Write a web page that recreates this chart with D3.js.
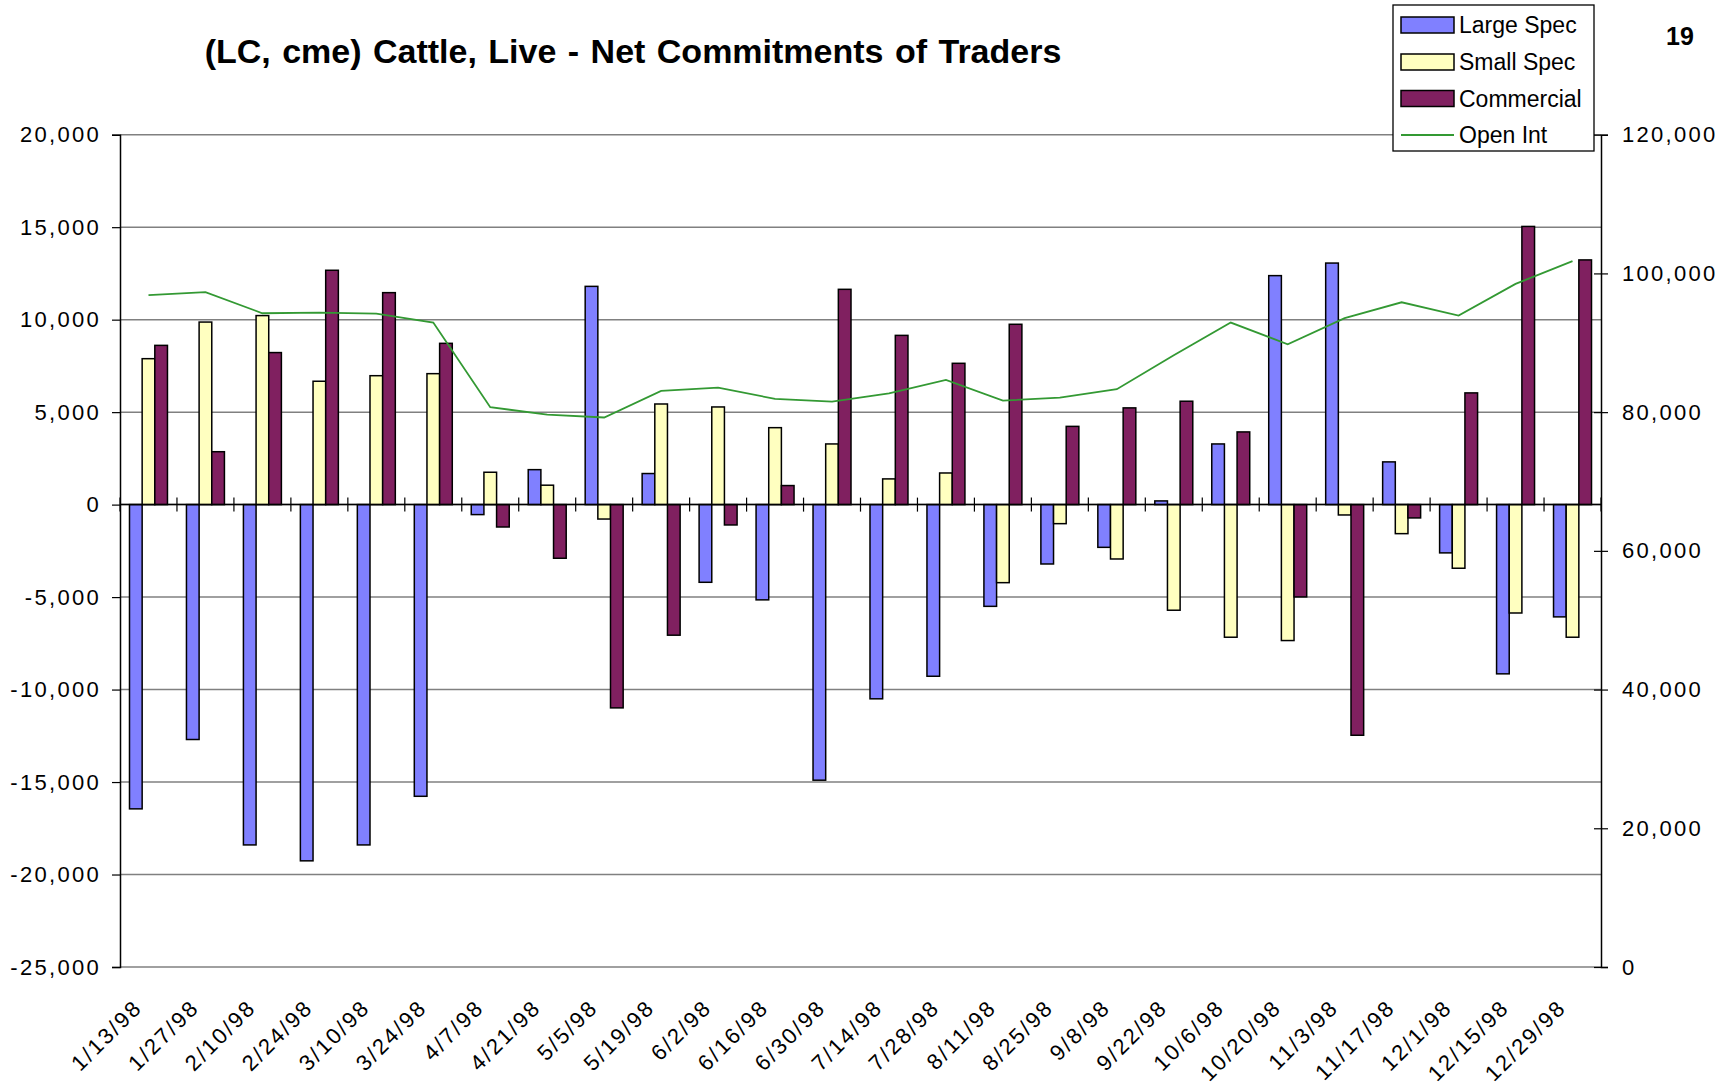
<!DOCTYPE html>
<html>
<head>
<meta charset="utf-8">
<script src="https://cdn.jsdelivr.net/npm/d3@7"></script>
<style>
  body { margin: 0; background: #fff; }
  svg { display: block; font-family: "Liberation Sans", Arial, sans-serif; }
</style>
</head>
<body>
<div id="chart"></div>
<script>
const dates = ['1/13/98', '1/27/98', '2/10/98', '2/24/98', '3/10/98', '3/24/98', '4/7/98', '4/21/98', '5/5/98',
    '5/19/98', '6/2/98', '6/16/98', '6/30/98', '7/14/98', '7/28/98', '8/11/98', '8/25/98', '9/8/98', '9/22/98',
    '10/6/98', '10/20/98', '11/3/98', '11/17/98', '12/1/98', '12/15/98', '12/29/98'];

const largeSpec = [-16450, -12700, -18400, -19260, -18400, -15770, -540, 1890, 11800, 1680, -4200, -5150, -14900,
    -10500, -9280, -5500, -3210, -2310, 200, 3280, 12380, 13060, 2310, -2610, -9150, -6070];
const smallSpec = [7890, 9870, 10220, 6670, 6970, 7080, 1750, 1050, -780, 5440, 5280, 4160, 3280,
    1390, 1710, -4220, -1030, -2940, -5710, -7170, -7350, -560, -1570, -3440, -5860, -7170];
const commercial = [8610, 2860, 8220, 12670, 11460, 8720, -1210, -2900, -10990, -7060, -1100, 1030, 11640,
    9150, 7640, 9750, 4230, 5230, 5590, 3930, -4990, -12470, -720, 6040, 15040, 13230];
const openInt = [96860, 97290, 94260, 94350, 94210, 92910, 80710, 79640, 79230, 83060, 83540, 81910, 81520,
    82720, 84650, 81660, 82090, 83300, 88190, 92910, 89790, 93540, 95840, 93920, 98490, 101760];

const seriesNames = ['Large Spec', 'Small Spec', 'Commercial'];
const leftTicks = [-25000, -20000, -15000, -10000, -5000, 0, 5000, 10000, 15000, 20000];
const rightTicks = [0, 20000, 40000, 60000, 80000, 100000, 120000];

const colors = {'Large Spec': '#8080ff', 'Small Spec': '#ffffc0', 'Commercial': '#802060'};
const lineColor = '#339933';

const W = 1727, H = 1087;
const plot = {left: 120, right: 1601, top: 134.7, bottom: 967};

const svg = d3.select('#chart').append('svg')
    .attr('width', W)
    .attr('height', H);

// scales
const x0 = d3.scaleBand().domain(dates).range([plot.left, plot.right]).padding(0);
const x1 = d3.scaleBand().domain(seriesNames).range([0, x0.bandwidth()])
    .paddingInner(0).paddingOuter(0.75);
const yL = d3.scaleLinear().domain([-25000, 20000]).range([plot.bottom, plot.top]);
const yR = d3.scaleLinear().domain([0, 120000]).range([plot.bottom, plot.top]);

// plain hyphen for negatives, like the original
const fmt = d3.formatLocale({decimal: '.', thousands: ',', grouping: [3], currency: ['$', ''], minus: '-'}).format(',');
const tickFont = {size: '22px', spacing: '2.3px'};

// gridlines
svg.append('g')
    .selectAll('line')
    .data(leftTicks)
    .enter()
    .append('line')
    .attr('x1', plot.left)
    .attr('x2', plot.right)
    .attr('y1', d => yL(d))
    .attr('y2', d => yL(d))
    .attr('stroke', '#808080')
    .attr('stroke-width', 1.5);

// left axis
const leftAxis = svg.append('g')
    .attr('transform', `translate(${plot.left},0)`)
    .call(d3.axisLeft(yL).tickValues(leftTicks).tickFormat(fmt).tickSize(8).tickPadding(11));
leftAxis.select('.domain').attr('stroke', '#000').attr('stroke-width', 1.5);
leftAxis.selectAll('.tick line').attr('stroke', '#000').attr('stroke-width', 1.2);
leftAxis.selectAll('text')
    .attr('fill', '#000')
    .style('font-size', tickFont.size)
    .style('letter-spacing', tickFont.spacing);

// right axis
const rightAxis = svg.append('g')
    .attr('transform', `translate(${plot.right},0)`)
    .call(d3.axisRight(yR).tickValues(rightTicks).tickFormat(fmt).tickSize(7).tickPadding(14));
rightAxis.select('.domain').attr('stroke', '#000').attr('stroke-width', 1.5);
rightAxis.selectAll('.tick line').attr('x1', -7).attr('stroke', '#000').attr('stroke-width', 1.2);
rightAxis.selectAll('text')
    .attr('fill', '#000')
    .style('font-size', tickFont.size)
    .style('letter-spacing', tickFont.spacing);

// bars
const groups = svg.append('g')
    .selectAll('g')
    .data(dates)
    .enter()
    .append('g')
    .attr('transform', d => `translate(${x0(d)},0)`);

const seriesValues = [largeSpec, smallSpec, commercial];
groups.selectAll('rect')
    .data((d, i) => seriesNames.map((name, k) => ({name, value: seriesValues[k][i]})))
    .enter()
    .append('rect')
    .attr('x', d => x1(d.name))
    .attr('y', d => yL(Math.max(0, d.value)))
    .attr('width', x1.bandwidth())
    .attr('height', d => Math.abs(yL(d.value) - yL(0)))
    .attr('fill', d => colors[d.name])
    .attr('stroke', '#000')
    .attr('stroke-width', 1.5);

// category axis on the zero line
const zeroY = yL(0);
svg.append('line')
    .attr('x1', plot.left)
    .attr('x2', plot.right)
    .attr('y1', zeroY)
    .attr('y2', zeroY)
    .attr('stroke', '#000')
    .attr('stroke-width', 1.5);

const boundaries = dates.map(d => x0(d)).concat([plot.right]);
svg.append('g')
    .selectAll('line')
    .data(boundaries)
    .enter()
    .append('line')
    .attr('x1', d => d)
    .attr('x2', d => d)
    .attr('y1', zeroY - 7)
    .attr('y2', zeroY + 7)
    .attr('stroke', '#000')
    .attr('stroke-width', 1.2);

// rotated date labels under the plot
svg.append('g')
    .selectAll('text')
    .data(dates)
    .enter()
    .append('text')
    .attr('transform', d => `translate(${x0(d) + x0.bandwidth() / 2 - 5},${plot.bottom + 42}) rotate(-45)`)
    .attr('text-anchor', 'end')
    .style('font-size', tickFont.size)
    .style('letter-spacing', tickFont.spacing)
    .text(d => d);

// open interest line
const line = d3.line()
    .x((d, i) => x0(dates[i]) + x0.bandwidth() / 2)
    .y(d => yR(d));

svg.append('path')
    .datum(openInt)
    .attr('d', line)
    .attr('fill', 'none')
    .attr('stroke', lineColor)
    .attr('stroke-width', 1.8);

// title
svg.append('text')
    .attr('x', 633)
    .attr('y', 63)
    .attr('text-anchor', 'middle')
    .style('font-size', '34px')
    .style('font-weight', 'bold')
    .style('word-spacing', '2px')
    .text('(LC, cme) Cattle, Live - Net Commitments of Traders');

svg.append('text')
    .attr('x', 1680)
    .attr('y', 45)
    .attr('text-anchor', 'middle')
    .style('font-size', '25px')
    .style('font-weight', 'bold')
    .text('19');

// legend
const legend = svg.append('g');
legend.append('rect')
    .attr('x', 1393)
    .attr('y', 5)
    .attr('width', 201)
    .attr('height', 146)
    .attr('fill', '#fff')
    .attr('stroke', '#000')
    .attr('stroke-width', 1.3);

const legendItems = seriesNames.concat(['Open Int']);
const rowY = [25, 62, 98.5, 135];
legendItems.forEach((name, i) => {
    if (name === 'Open Int') {
        legend.append('line')
            .attr('x1', 1401)
            .attr('x2', 1454)
            .attr('y1', rowY[i])
            .attr('y2', rowY[i])
            .attr('stroke', lineColor)
            .attr('stroke-width', 1.8);
    } else {
        legend.append('rect')
            .attr('x', 1401)
            .attr('y', rowY[i] - 8)
            .attr('width', 53)
            .attr('height', 16)
            .attr('fill', colors[name])
            .attr('stroke', '#000')
            .attr('stroke-width', 1.5);
    }
    legend.append('text')
        .attr('x', 1459)
        .attr('y', rowY[i])
        .attr('dy', '0.35em')
        .style('font-size', '23px')
        .text(name);
});
</script>
</body>
</html>
